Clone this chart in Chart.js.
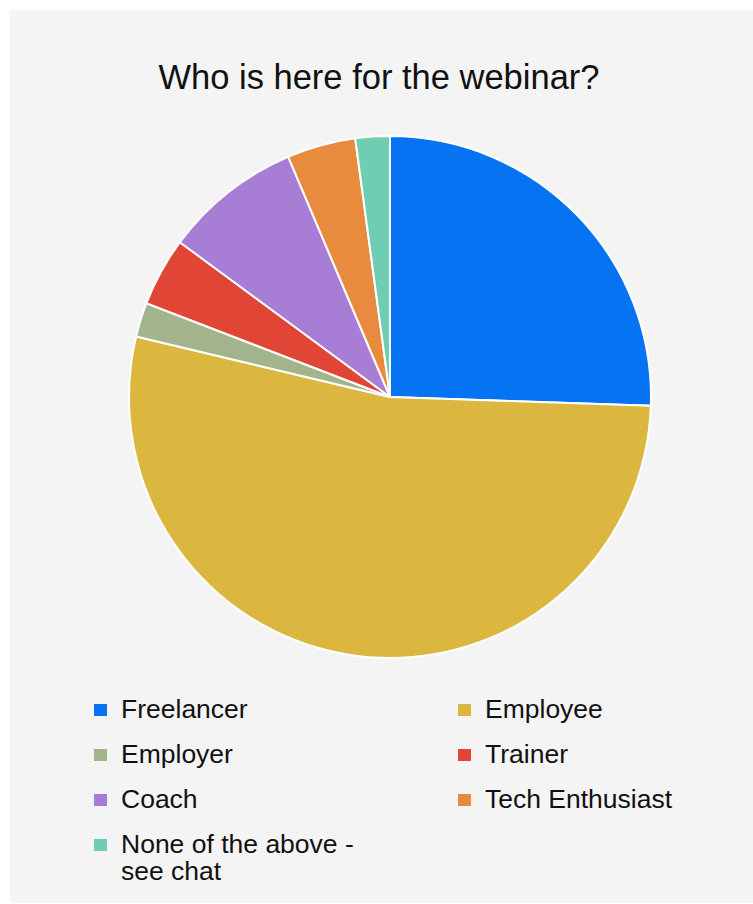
<!DOCTYPE html>
<html>
<head>
<meta charset="utf-8">
<script src="https://cdn.jsdelivr.net/npm/chart.js@4.4.0/dist/chart.umd.min.js"></script>
<style>
  body { margin: 0; background: #fff; font-family: "Liberation Sans", Arial, sans-serif; }
  #panel { position: absolute; left: 10px; top: 10px; width: 743px; height: 893px; background: #f4f4f4; }
  #title { position: absolute; left: 0; top: 50px; width: 738px; text-align: center;
           font-size: 34.5px; line-height: 34px; color: #111; }
  #pieBox { position: absolute; left: 118px; top: 125px; width: 524px; height: 524px; }
  .item { position: absolute; font-size: 26.5px; line-height: 27px; color: #111; }
  .item .box { position: absolute; left: 0; top: 8px; width: 13px; height: 12px; }
  .item .txt { position: absolute; left: 27px; top: 0; width: 250px; }
</style>
</head>
<body>
<div id="panel">
  <div id="title">Who is here for the webinar?</div>
  <div id="pieBox"><canvas id="myChart"></canvas></div>
  <div id="legend"></div>
</div>
<script>
const labels = [
  'Freelancer',
  'Employee',
  'Employer',
  'Trainer',
  'Coach',
  'Tech Enthusiast',
  'None of the above - see chat',
];
const values = [12, 25, 1, 2, 4, 2, 1];
const colors = ['#0573f2', '#dcb740', '#a3b38c', '#e04535', '#a77dd6', '#e98b3f', '#6ecdb3'];

const data = {
  labels: labels,
  datasets: [{
    data: values,
    backgroundColor: colors,
    borderColor: '#ffffff',
    borderWidth: 2,
  }]
};

const config = {
  type: 'pie',
  data: data,
  options: {
    responsive: true,
    maintainAspectRatio: false,
    animation: false,
    events: [],
    layout: { padding: 0 },
    plugins: {
      legend: { display: false },
      tooltip: { enabled: false },
    }
  },
};

const myChart = new Chart(document.getElementById('myChart'), config);

// legend in two columns, from the chart's own labels
const colX = [84, 448];
const rowY = [686, 731, 776, 821];
const legend = document.getElementById('legend');
myChart.data.labels.forEach(function (lab, i) {
  const item = document.createElement('div');
  item.className = 'item';
  item.style.left = colX[i % 2] + 'px';
  item.style.top = rowY[Math.floor(i / 2)] + 'px';
  const box = document.createElement('div');
  box.className = 'box';
  box.style.background = myChart.data.datasets[0].backgroundColor[i];
  const txt = document.createElement('div');
  txt.className = 'txt';
  txt.textContent = lab;
  item.appendChild(box);
  item.appendChild(txt);
  legend.appendChild(item);
});
</script>
</body>
</html>
